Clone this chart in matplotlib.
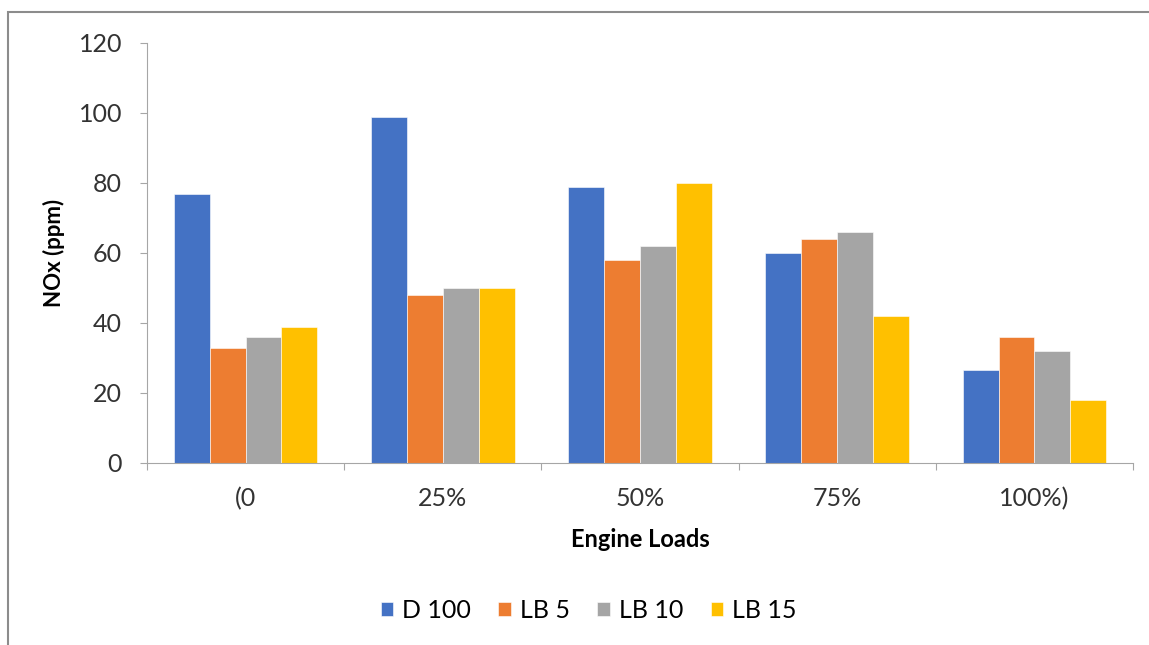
import numpy as np
import matplotlib
matplotlib.use('Agg')
from matplotlib import pyplot as plt
from matplotlib.patches import Rectangle

plt.rcParams['font.family'] = ['Lato', 'DejaVu Sans']

# Data
loads = ['(0', '25%', '50%', '75%', '100%)']
fuels = ['D 100', 'LB 5', 'LB 10', 'LB 15']
d100 = [77, 99, 79, 60, 26.6]
lb5 = [33, 48, 58, 64, 36]
lb10 = [36, 50, 62, 66, 32]
lb15 = [39, 50, 80, 42, 18]
colors = ['#4472C4', '#ED7D31', '#A5A5A5', '#FFC000']

series = [d100, lb5, lb10, lb15]

fig = plt.figure(figsize=(11.49, 6.45), dpi=100)
# Chart frame
fig.patches.append(Rectangle((8/1149, -0.1), 1.2, (645-12)/645 + 0.1,
                             transform=fig.transFigure, fill=False,
                             edgecolor='#8C8C8C', linewidth=1.5))
ax = fig.add_axes([147/1149, 1-463/645, (1133-147)/1149, (463-43)/645])

x = np.arange(len(loads))
width = 0.182
for i, (vals, name) in enumerate(zip(series, fuels)):
    ax.bar(x + (i - 1.5)*width, vals, width, color=colors[i], label=name,
           edgecolor='white', linewidth=0.4)

ax.set_xlim(-0.5, len(loads) - 0.5)
ax.set_ylim(0, 120)
ax.set_yticks(np.arange(0, 121, 20))

# Category boundaries as ticks, labels at centers
ax.set_xticks(np.arange(-0.5, len(loads), 1.0))
ax.set_xticklabels([])
ax.set_xticks(x, minor=True)
ax.set_xticklabels(loads, minor=True)
ax.tick_params(axis='x', which='minor', length=0, pad=17, labelsize=18,
               colors='#333333')
ax.tick_params(axis='x', which='major', length=5, color='#A6A6A6')
ax.tick_params(axis='y', length=5, color='#A6A6A6', pad=13, labelsize=18,
               labelcolor='#333333')

for s in ['top', 'right']:
    ax.spines[s].set_visible(False)
for s in ['left', 'bottom']:
    ax.spines[s].set_color('#A6A6A6')

ax.set_xlabel('Engine Loads', fontsize=17, fontweight='bold', labelpad=13)
ax.set_ylabel('NOx (ppm)', fontsize=16, fontweight='bold', labelpad=10)

ax.legend(loc='upper center', bbox_to_anchor=(0.448, -0.27), ncol=4,
          frameon=False, fontsize=18, handlelength=0.5, handleheight=0.5,
          handletextpad=0.36, columnspacing=1.1)

plt.savefig('out.png', dpi=100)
